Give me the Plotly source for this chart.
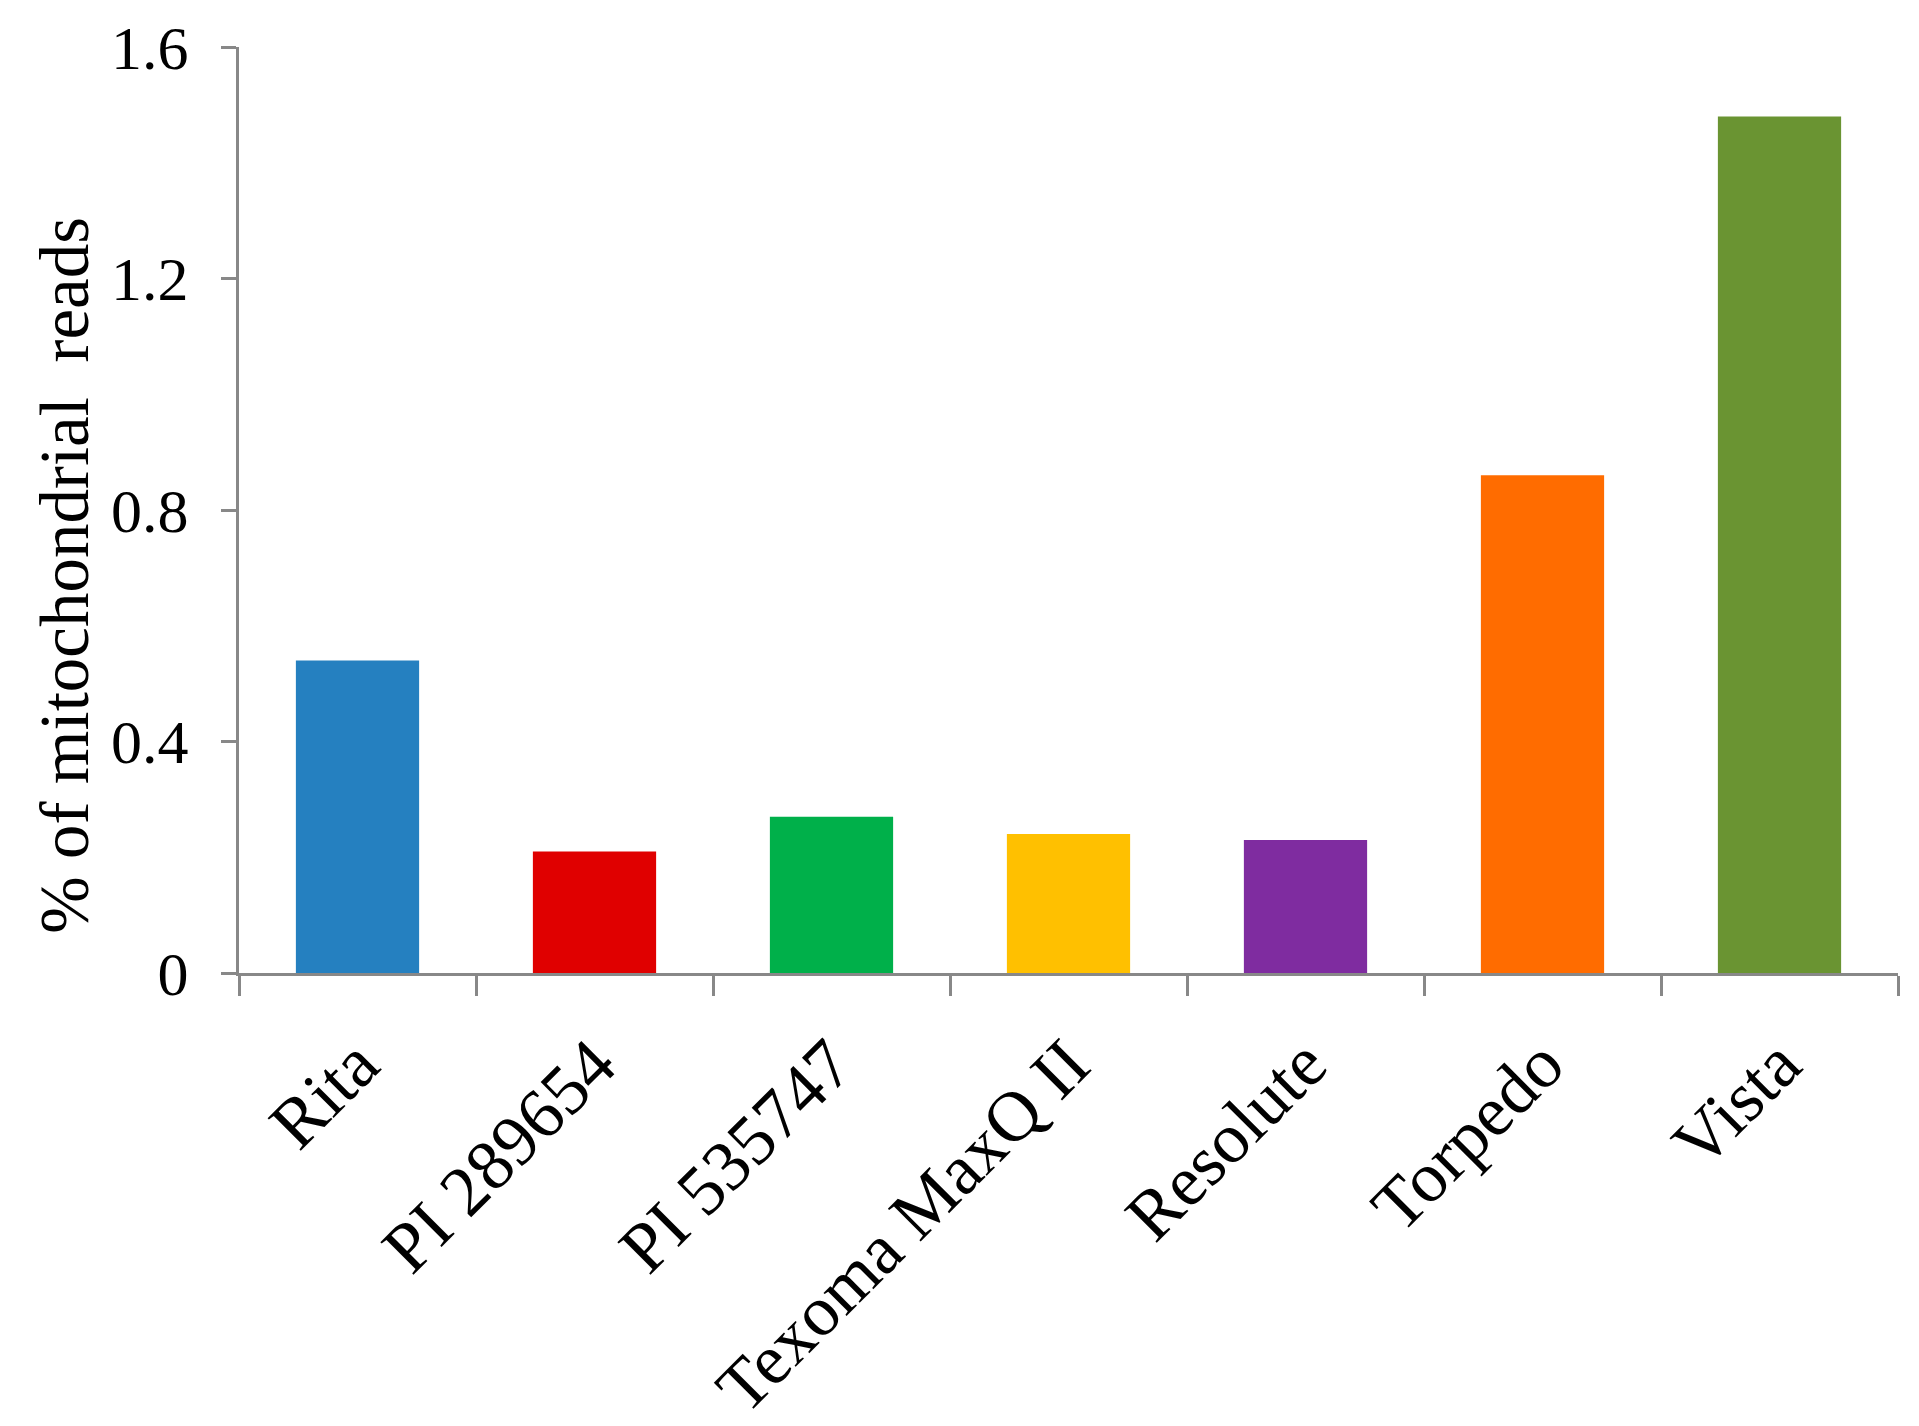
import plotly.graph_objects as go

# cultivar names on x axis
cultivars = ['Rita', 'PI 289654', 'PI 535747', 'Texoma MaxQ II', 'Resolute', 'Torpedo', 'Vista']
# % of mitochondrial reads
mito_pct = [0.54, 0.21, 0.27, 0.24, 0.23, 0.86, 1.48]
bar_colors = ['#2580C0', '#E00000', '#00B04A', '#FFC000', '#7F2CA0', '#FF6C00', '#6A9432']

y_ticks = [0, 0.4, 0.8, 1.2, 1.6]
y_tick_text = ['0', '0.4', '0.8', '1.2', '1.6']
y_title = '% of mitochondrial\u00a0 reads'

font_family = 'Liberation Serif'
axis_gray = '#888888'

fig = go.Figure()
fig.add_trace(go.Bar(
    x=cultivars,
    y=mito_pct,
    marker=dict(color=bar_colors, line=dict(width=0)),
    width=0.52,
))

# page body has an 8px margin, so the figure is a bit smaller than the window
fig.update_layout(
    width=1911,
    height=1418,
    margin=dict(l=231, r=21, t=39, b=453, autoexpand=False),
    plot_bgcolor='white',
    paper_bgcolor='white',
    showlegend=False,
    font=dict(family=font_family, size=64, color='black'),
)

fig.update_xaxes(
    automargin=False,
    showline=True,
    linecolor=axis_gray,
    linewidth=3,
    ticks='outside',
    tickson='boundaries',
    ticklen=20,
    tickwidth=3,
    tickcolor=axis_gray,
    tickangle=-45,
    tickfont=dict(family=font_family, size=71),
    ticklabelstandoff=18,
    showgrid=False,
    zeroline=False,
)

fig.update_yaxes(
    automargin=False,
    range=[0, 1.6],
    tickvals=y_ticks,
    ticktext=y_tick_text,
    showline=True,
    linecolor=axis_gray,
    linewidth=3,
    ticks='outside',
    ticklen=15,
    tickwidth=3,
    tickcolor=axis_gray,
    tickfont=dict(family=font_family, size=62),
    ticklabelstandoff=20,
    showgrid=False,
    zeroline=False,
)

# axis title placed as annotation (it sits below the plot centre in the original)
fig.add_annotation(
    text=y_title,
    textangle=-90,
    xref='paper', yref='paper',
    x=-0.105, y=0.43,
    xanchor='center', yanchor='middle',
    showarrow=False,
    font=dict(family=font_family, size=69, color='black'),
)

fig.write_html('out.html')
